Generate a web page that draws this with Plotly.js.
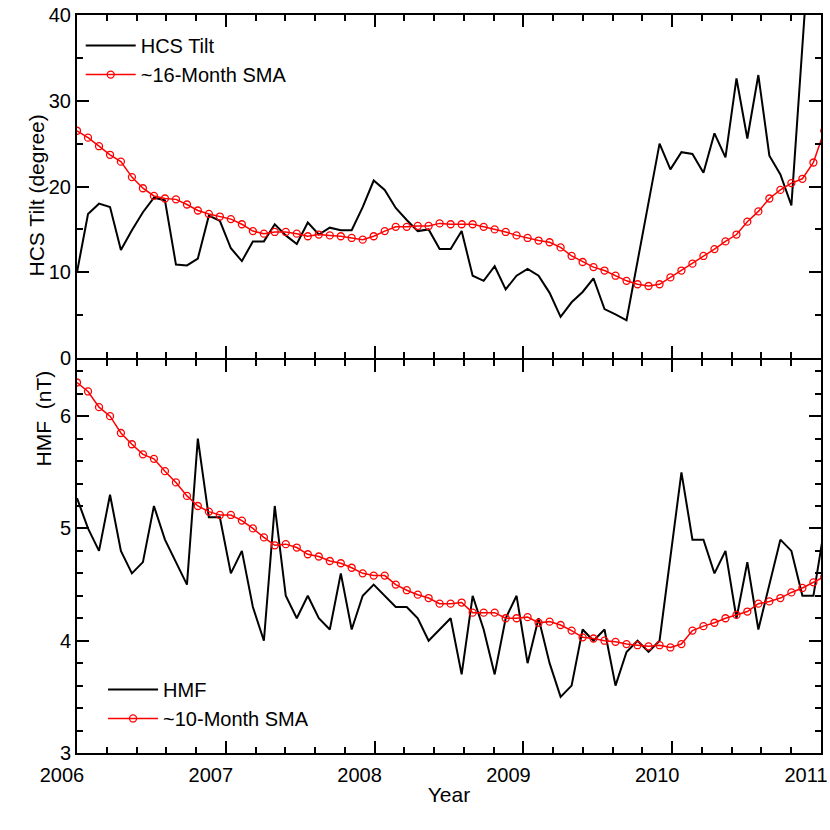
<!DOCTYPE html>
<html>
<head>
<meta charset="utf-8">
<script src="https://cdn.plot.ly/plotly-3.0.1.min.js"></script>
<style>
  body { margin: 0; background: #fff; }
  #chart { width: 830px; height: 830px; }
</style>
</head>
<body>
<div id="chart"></div>
<script>
// one sample per ~27-day rotation, as decimal year
const years = [
  2006.000, 2006.074, 2006.148, 2006.222, 2006.295, 2006.369, 2006.443, 2006.517, 2006.591, 2006.665,
  2006.739, 2006.812, 2006.886, 2006.960, 2007.034, 2007.108, 2007.182, 2007.256, 2007.329, 2007.403,
  2007.477, 2007.551, 2007.625, 2007.699, 2007.773, 2007.846, 2007.920, 2007.994, 2008.068, 2008.142,
  2008.216, 2008.290, 2008.363, 2008.437, 2008.511, 2008.585, 2008.659, 2008.733, 2008.807, 2008.881,
  2008.954, 2009.028, 2009.102, 2009.176, 2009.250, 2009.324, 2009.398, 2009.471, 2009.545, 2009.619,
  2009.693, 2009.767, 2009.841, 2009.915, 2009.988, 2010.062, 2010.136, 2010.210, 2010.284, 2010.358,
  2010.432, 2010.505, 2010.579, 2010.653, 2010.727, 2010.801, 2010.875, 2010.949, 2011.022
];

// HCS tilt (degree), gaps are null
const hcsTilt = [
  10.0, 16.8, 18.0, 17.6, 12.6, 14.9, 17.0, 18.7, 18.4, 10.9,
  10.8, 11.6, 16.6, 16.0, 12.8, 11.3, 13.6, 13.6, 15.6, 14.3,
  13.3, 15.8, 14.4, 15.2, 14.9, 14.9, 17.6, 20.7, 19.6, 17.5,
  16.1, 14.8, 15.0, 12.7, 12.7, 14.8, 9.6, 9.0, 10.7, 8.0,
  9.6, 10.4, 9.6, 7.6, 4.8, 6.5, 7.7, 9.3, 5.7, 5.1,
  4.4, null, null, 25.0, 22.0, 24.0, 23.8, 21.6, 26.2, 23.4,
  32.6, 25.6, 33.0, 23.6, 21.4, 17.8, null, 55.0, null
];

const hcsSMA = [
  26.5, 25.7, 24.7, 23.7, 22.9, 21.1, 19.8, 18.9, 18.6, 18.5,
  17.9, 17.2, 16.8, 16.5, 16.2, 15.6, 14.8, 14.5, 14.7, 14.7,
  14.5, 14.2, 14.4, 14.3, 14.2, 14.0, 13.8, 14.2, 14.8, 15.3,
  15.3, 15.4, 15.4, 15.7, 15.6, 15.6, 15.6, 15.3, 15.0, 14.7,
  14.3, 14.0, 13.7, 13.5, 12.9, 11.9, 11.2, 10.6, 10.2, 9.6,
  9.0, 8.6, 8.4, 8.6, 9.4, 10.2, 11.0, 11.9, 12.7, 13.6,
  14.4, 15.9, 17.1, 18.6, 19.6, 20.4, 20.9, 22.8, 26.5
];

// HMF (nT)
const hmf = [
  5.27, 5.0, 4.8, 5.3, 4.8, 4.6, 4.7, 5.2, 4.9, 4.7,
  4.5, 5.8, 5.1, 5.1, 4.6, 4.8, 4.3, 4.0, 5.2, 4.4,
  4.2, 4.4, 4.2, 4.1, 4.6, 4.1, 4.4, 4.5, 4.4, 4.3,
  4.3, 4.2, 4.0, 4.1, 4.2, 3.7, 4.4, 4.1, 3.7, 4.2,
  4.4, 3.8, 4.2, 3.8, 3.5, 3.6, 4.1, 4.0, 4.1, 3.6,
  3.9, 4.0, 3.9, 4.0, null, 5.5, 4.9, 4.9, 4.6, 4.8,
  4.2, 4.7, 4.1, null, 4.9, 4.8, 4.4, 4.4, 5.0
];

const hmfSMA = [
  6.30, 6.22, 6.08, 6.00, 5.85, 5.75, 5.66, 5.62, 5.51, 5.41,
  5.29, 5.20, 5.15, 5.12, 5.12, 5.07, 5.00, 4.92, 4.85, 4.86,
  4.83, 4.77, 4.75, 4.71, 4.69, 4.65, 4.60, 4.58, 4.58, 4.50,
  4.45, 4.41, 4.38, 4.33, 4.33, 4.34, 4.25, 4.25, 4.25, 4.20,
  4.20, 4.21, 4.16, 4.17, 4.14, 4.09, 4.03, 4.02, 4.00, 3.99,
  3.97, 3.96, 3.95, 3.96, 3.94, 3.97, 4.09, 4.13, 4.16, 4.20,
  4.23, 4.26, 4.33, 4.35, 4.38, 4.43, 4.47, 4.52, 4.57
];

const FONT = 'Liberation Sans, Arial, sans-serif';
const smaMarker = { symbol: 'circle-open', size: 7, color: '#ff0000', line: { width: 1.3, color: '#ff0000' } };

const traces = [
  { x: years, y: hcsTilt, xaxis: 'x2', yaxis: 'y2', type: 'scatter', mode: 'lines',
    name: 'HCS Tilt', connectgaps: true, line: { color: '#000', width: 2 }, legend: 'legend' },
  { x: years, y: hcsSMA, xaxis: 'x2', yaxis: 'y2', type: 'scatter', mode: 'lines+markers',
    name: '~16-Month SMA', line: { color: '#ff0000', width: 1.5 }, marker: smaMarker, legend: 'legend' },
  { x: years, y: hmf, xaxis: 'x', yaxis: 'y', type: 'scatter', mode: 'lines',
    name: 'HMF', connectgaps: true, line: { color: '#000', width: 2 }, legend: 'legend2' },
  { x: years, y: hmfSMA, xaxis: 'x', yaxis: 'y', type: 'scatter', mode: 'lines+markers',
    name: '~10-Month SMA', line: { color: '#ff0000', width: 1.5 }, marker: smaMarker, legend: 'legend2' }
];

const axisBase = {
  showline: true, linecolor: '#000', linewidth: 2, mirror: 'allticks',
  ticks: 'inside', ticklen: 12, tickwidth: 2, tickcolor: '#000',
  showgrid: false, zeroline: false,
  tickfont: { family: FONT, size: 20, color: '#000' }
};
const minorTicks = dt => ({ ticks: 'inside', ticklen: 6, tickwidth: 2, tickcolor: '#000', dtick: dt, showgrid: false });

const legendFont = { family: FONT, size: 20, color: '#000' };

const layout = {
  width: 830, height: 830,
  margin: { l: 77, r: 9, t: 15, b: 77 },
  paper_bgcolor: '#fff', plot_bgcolor: '#fff',
  font: { family: FONT, color: '#000' },
  xaxis: Object.assign({}, axisBase, {
    anchor: 'y', range: [2006, 2011], tick0: 2006, dtick: 1,
    minor: minorTicks(0.2), ticklabelshift: -15, ticklabelstandoff: 3,
    title: { text: 'Year', font: { family: FONT, size: 21 }, standoff: 2 }
  }),
  xaxis2: Object.assign({}, axisBase, {
    anchor: 'y2', matches: 'x', range: [2006, 2011], tick0: 2006, dtick: 1,
    minor: minorTicks(0.2), showticklabels: false
  }),
  yaxis: Object.assign({}, axisBase, {
    anchor: 'x', domain: [0, 0.5325], range: [3, 6.5], tick0: 3, dtick: 1,
    minor: minorTicks(0.2)
  }),
  yaxis2: Object.assign({}, axisBase, {
    anchor: 'x2', domain: [0.5352, 1], range: [0, 40], tick0: 0, dtick: 10,
    minor: minorTicks(5)
  }),
  legend: {
    x: 0.005, y: 0.985, xanchor: 'left', yanchor: 'top', itemwidth: 50,
    bgcolor: 'rgba(0,0,0,0)', font: legendFont
  },
  legend2: {
    x: 0.035, y: 0.1125, xanchor: 'left', yanchor: 'top', itemwidth: 50,
    bgcolor: 'rgba(0,0,0,0)', font: legendFont
  },
  annotations: [
    { text: 'HCS Tilt (degree)', xref: 'paper', yref: 'paper', x: -0.0726, y: 0.8686,
      textangle: -90, showarrow: false, font: { family: FONT, size: 21, color: '#000' } },
    { text: 'HMF  (nT)', xref: 'paper', yref: 'paper', x: -0.0632, y: 0.454,
      textangle: -90, showarrow: false, font: { family: FONT, size: 21, color: '#000' } }
  ],
  showlegend: true
};

Plotly.newPlot('chart', traces, layout, { displayModeBar: false, staticPlot: true });
</script>
</body>
</html>
